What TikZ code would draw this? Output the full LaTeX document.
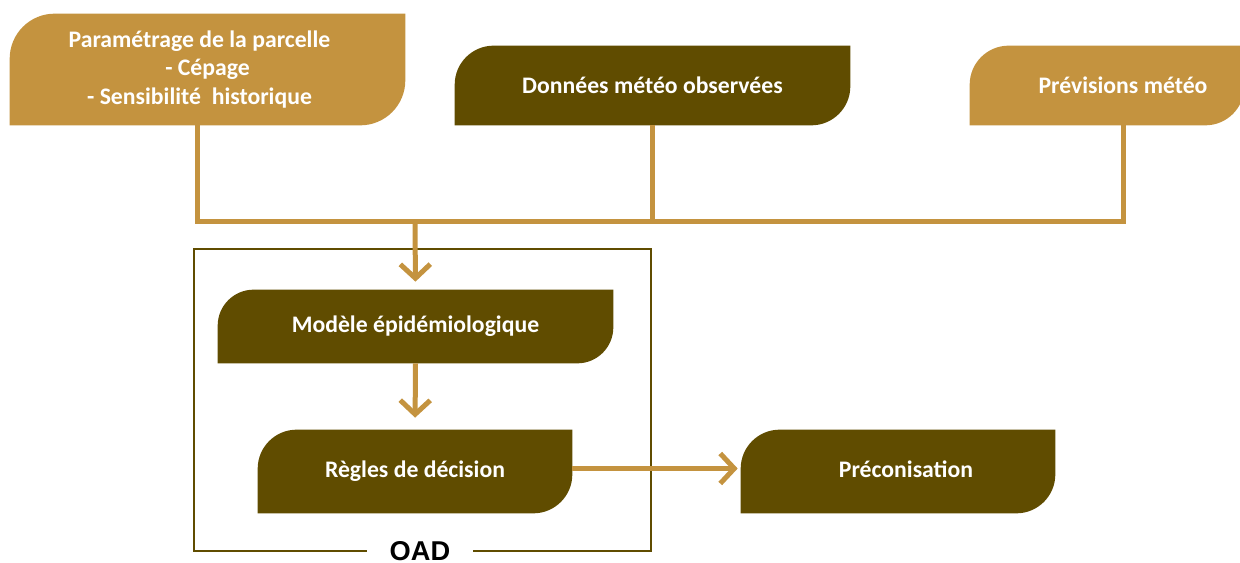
\documentclass[tikz,border=0pt]{standalone}
\usepackage{fontspec}
\setmainfont{Carlito}
\newfontfamily\oadfont{Liberation Sans}
\usetikzlibrary{arrows.meta,backgrounds}
\definecolor{gold}{HTML}{C4933F}
\definecolor{olive}{HTML}{604C00}
\tikzset{
  box/.style={inner sep=0pt,text=white,align=center,
    font=\bfseries\fontsize{13.5}{16}\selectfont},
  link/.style={draw=gold,line width=0.1cm},
  flow/.style={link,-{Straight Barb[length=0.28cm,width=0.6cm]}},
  frame/.style={draw=olive,line width=0.05cm}
}
% leaf shaped box behind a node: rounded top left and bottom right
\newcommand{\leaf}[3]{%
  \fill[#2] (#1.south west) -- ([yshift=-#3]#1.north west)
    arc[start angle=180,end angle=90,radius=#3] -- (#1.north east)
    -- ([yshift=#3]#1.south east)
    arc[start angle=0,end angle=-90,radius=#3] -- cycle;}
\begin{document}
\begin{tikzpicture}[x=0.02cm,y=-0.02cm]
  \useasboundingbox (0,0) rectangle (1240,563);
  % inputs
  \node[box,minimum width=7.9cm,minimum height=2.22cm] (param) at (207.5,69.5)
    {\raisebox{-0.06cm}{Paramétrage de la parcelle}\hspace*{0.32cm}\\
     \raisebox{-0.06cm}{- Cépage}\hspace*{0.32cm}\\
     \raisebox{-0.06cm}{- Sensibilité\ \ historique}\hspace*{0.32cm}};
  \node[box,minimum width=7.9cm,minimum height=1.58cm] (obs) at (652.5,85.5)
    {Données météo observées};
  \node[box,minimum width=5.48cm,minimum height=1.58cm] (prev) at (1107,85.5)
    {\hspace*{0.64cm}Prévisions météo};
  % OAD
  \node[box,minimum width=7.9cm,minimum height=1.46cm] (model) at (415.5,326.5)
    {Modèle épidémiologique};
  \node[box,minimum width=6.28cm,minimum height=1.66cm] (rules) at (415,471.5)
    {\raisebox{0.04cm}{Règles de décision}};
  \node[box,minimum width=6.28cm,minimum height=1.66cm] (advice) at (898,471.5)
    {\hspace*{0.32cm}\raisebox{0.1cm}{Préconisation}};
  \begin{scope}[on background layer]
    \leaf{param}{gold}{0.9cm}
    \leaf{obs}{olive}{0.78cm}
    \leaf{prev}{gold}{0.78cm}
    \leaf{model}{olive}{0.72cm}
    \leaf{rules}{olive}{0.78cm}
    \leaf{advice}{olive}{0.78cm}
  \end{scope}
  \draw[frame] (194,249) rectangle (651,551);
  \node[fill=white,minimum width=2.12cm,inner sep=0pt,anchor=base,
    font=\oadfont\bfseries\fontsize{15.5}{18}\selectfont] (oad) at (420,560) {OAD};
  % connectors
  \coordinate (bus) at (415,222);
  \draw[link] ([xshift=-0.2cm]param.south) |- (bus) -| ([xshift=0.32cm]prev.south);
  \draw[link] (obs.south) -- (obs.south |- bus);
  \draw[flow,shorten >=0.16cm] (bus) -- (model.north);
  \draw[flow,shorten >=0.24cm] (model.south) -- (rules.north);
  \draw[flow,shorten >=0.06cm] ([yshift=0.06cm]rules.east) -- ([yshift=0.06cm]advice.west);
\end{tikzpicture}
\end{document}
